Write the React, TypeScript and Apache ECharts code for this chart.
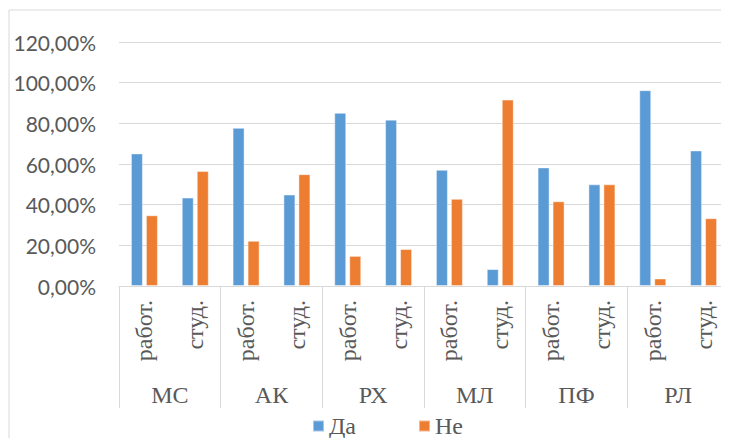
import React, { useEffect, useRef } from "react";
import * as echarts from "echarts";

// Two respondent types inside each of six groups
const groups = ["МС", "АК", "РХ", "МЛ", "ПФ", "РЛ"];
const subgroups = ["работ.", "студ."];
const categories = groups.flatMap(() => subgroups);

// Share of answers, in percent, per category (работ./студ. for each group)
const yesValues = [65.22, 43.48, 77.78, 45.0, 85.19, 81.82, 57.14, 8.33, 58.33, 50.0, 96.3, 66.67];
const noValues = [34.78, 56.52, 22.22, 55.0, 14.81, 18.18, 42.86, 91.67, 41.67, 50.0, 3.7, 33.33];

const yTicks = { min: 0, max: 120, interval: 20 };

const GRAY_TEXT = "#595959";
const GRAY_LINE = "#d9d9d9";
const SERIF = "serif";
const SANS = "Lato";

export default function App() {
  const ref = useRef<HTMLDivElement>(null);

  useEffect(() => {
    if (!ref.current) return;
    const chart = echarts.init(ref.current, undefined, { renderer: "svg" });
    chart.setOption({
      animation: false,
      backgroundColor: "#ffffff",
      grid: { left: 119, right: -7, top: 42, height: 244 },
      legend: {
        data: ["Да", "Не"],
        left: 307,
        top: 409,
        icon: "rect",
        itemWidth: 11,
        itemHeight: 11,
        itemGap: 62,
        textStyle: { fontFamily: SERIF, fontSize: 24, color: GRAY_TEXT },
      },
      xAxis: [
        {
          type: "category",
          data: categories,
          axisLine: { lineStyle: { color: GRAY_LINE, width: 1 } },
          axisTick: { show: false },
          axisLabel: {
            rotate: 90,
            margin: 14,
            fontFamily: SERIF,
            fontSize: 24,
            color: GRAY_TEXT,
            interval: 0,
          },
        },
        {
          type: "category",
          data: groups,
          position: "bottom",
          offset: 0,
          axisLine: { show: false },
          axisTick: {
            show: true,
            length: 122,
            lineStyle: { color: GRAY_LINE, width: 1 },
          },
          axisLabel: {
            margin: 97,
            fontFamily: SERIF,
            fontSize: 24,
            color: GRAY_TEXT,
            interval: 0,
          },
        },
      ],
      yAxis: {
        type: "value",
        min: yTicks.min,
        max: yTicks.max,
        interval: yTicks.interval,
        axisLine: { show: false },
        axisTick: { show: false },
        splitLine: { lineStyle: { color: GRAY_LINE, width: 1 } },
        axisLabel: {
          margin: 23,
          fontFamily: SANS,
          fontSize: 21,
          color: GRAY_TEXT,
          formatter: (v: number) => v.toFixed(2).replace(".", ",") + "%",
        },
      },
      graphic: [
        {
          type: "rect",
          shape: { x: 9, y: 10, width: 800, height: 500 },
          style: { fill: "none", stroke: GRAY_LINE, lineWidth: 1 },
          silent: true,
        },
      ],
      series: [
        {
          name: "Да",
          type: "bar",
          xAxisIndex: 0,
          data: yesValues,
          barWidth: 12,
          barGap: "25%",
          itemStyle: { color: "#5b9bd5", borderColor: "rgba(255,255,255,0.45)", borderWidth: 1 },
        },
        {
          name: "Не",
          type: "bar",
          xAxisIndex: 0,
          data: noValues,
          barWidth: 12,
          barGap: "25%",
          itemStyle: { color: "#ed7d31", borderColor: "rgba(255,255,255,0.45)", borderWidth: 1 },
        },
      ],
    });
    return () => chart.dispose();
  }, []);

  return <div ref={ref} style={{ width: 729, height: 438, marginLeft: -8, marginTop: -8 }} />;
}
